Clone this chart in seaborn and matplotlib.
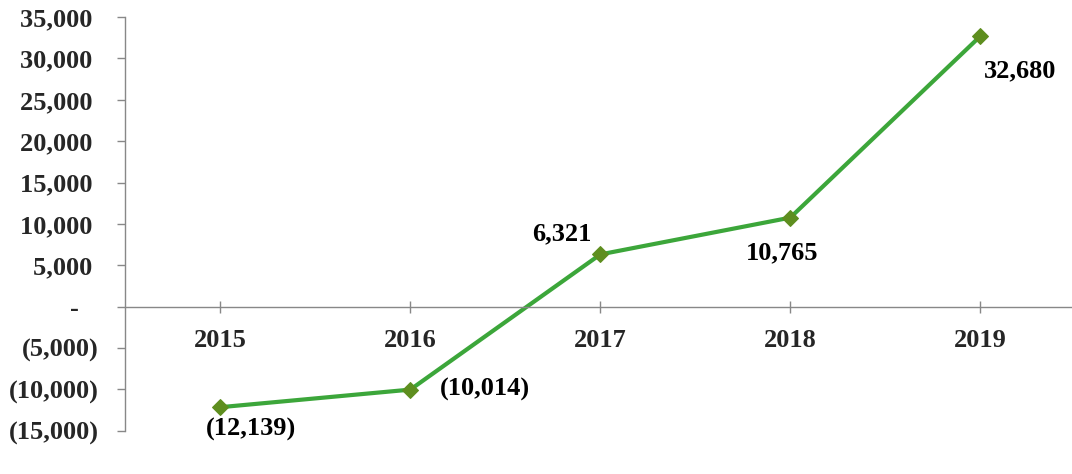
import pandas as pd
import matplotlib.pyplot as plt
import seaborn as sns

# Data
years = ["2015", "2016", "2017", "2018", "2019"]
values = [-12139, -10014, 6321, 10765, 32680]
point_labels = ["(12,139)", "(10,014)", "6,321", "10,765", "32,680"]
# label offsets (points) relative to each marker
label_dx = [22, 54, -28, -6, 29]
label_dy = [-16, 0, 15, -25, -25]

y_ticks = [35000, 30000, 25000, 20000, 15000, 10000, 5000, 0, -5000, -10000, -15000]
y_tick_labels = ["35,000 ", "30,000 ", "25,000 ", "20,000 ", "15,000 ", "10,000 ",
                 "5,000 ", "-   ", "(5,000)", "(10,000)", "(15,000)"]

sns.set_style("white")
plt.rcParams["font.family"] = ["Liberation Serif", "DejaVu Serif"]
plt.rcParams["font.weight"] = "bold"

df = pd.DataFrame({"year": years, "value": values})

fig, ax = plt.subplots(figsize=(10.72, 4.74), dpi=100)
fig.subplots_adjust(left=0.117, right=1.003, top=0.964, bottom=0.091)

sns.lineplot(data=df, x="year", y="value", ax=ax, color="#3ca63a", linewidth=3,
             marker="D", markersize=8, markerfacecolor="#5e8e1f",
             markeredgecolor="#5e8e1f", sort=False)

for i, (yr, v, lab) in enumerate(zip(years, values, point_labels)):
    ax.annotate(lab, (i, v), xytext=(label_dx[i], label_dy[i]),
                textcoords="offset points", ha="center", va="center",
                fontsize=19, fontweight="bold", color="black")

ax.set_xlim(-0.5, 4.5)
ax.set_ylim(-15000, 35000)
ax.set_yticks(y_ticks)
ax.set_yticklabels(y_tick_labels)
ax.set_xticks(range(len(years)))
ax.set_xticklabels(years)
ax.set_xlabel("")
ax.set_ylabel("")

ax.spines["top"].set_visible(False)
ax.spines["right"].set_visible(False)
ax.spines["bottom"].set_position(("data", 0))
for s in ["left", "bottom"]:
    ax.spines[s].set_color("#888888")
    ax.spines[s].set_linewidth(1)

ax.tick_params(axis="y", direction="out", length=6, width=1, color="#888888",
               pad=13, left=True, labelsize=19)
ax.tick_params(axis="x", direction="inout", length=8, width=1, color="#888888",
               pad=12, bottom=True, labelsize=19)
for t in ax.get_xticklabels() + ax.get_yticklabels():
    t.set_fontweight("bold")

plt.savefig("out.png", dpi=100)
